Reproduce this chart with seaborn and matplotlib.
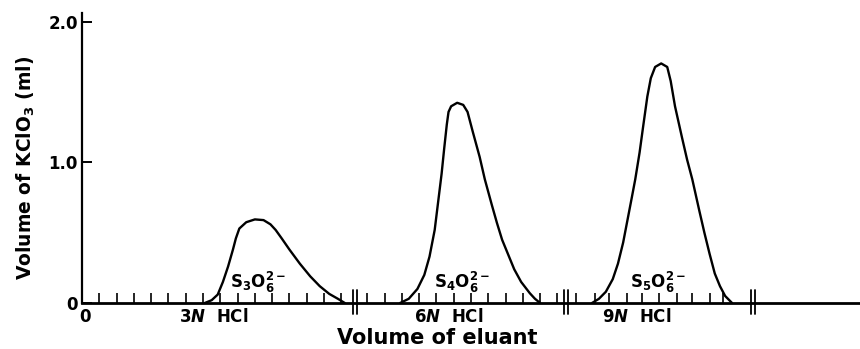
import numpy as np
import pandas as pd
import matplotlib
matplotlib.use("Agg")
import matplotlib.pyplot as plt
import seaborn as sns

# elution curves, x in tick units (volume of eluant), y in ml of KClO3
s3_x = [7.1, 7.5, 7.85, 8.15, 8.45, 8.73, 8.9, 9.1, 9.5, 10.0, 10.5, 10.9, 11.2, 11.55,
        12.0, 12.6, 13.2, 13.75, 14.3, 14.8, 15.2]
s3_y = [0.0, 0.02, 0.06, 0.15, 0.26, 0.38, 0.46, 0.53, 0.575, 0.595, 0.59, 0.56, 0.52, 0.46,
        0.38, 0.28, 0.19, 0.12, 0.065, 0.03, 0.0]

s4_x = [18.4, 18.9, 19.4, 19.8, 20.1, 20.4, 20.6, 20.8, 20.95, 21.1, 21.2, 21.35, 21.7, 22.05,
        22.3, 22.6, 23.0, 23.3, 23.7, 24.0, 24.3, 24.7, 25.0, 25.4, 25.9, 26.2, 26.5]
s4_y = [0.0, 0.03, 0.10, 0.20, 0.33, 0.52, 0.72, 0.92, 1.10, 1.27, 1.36, 1.40, 1.425, 1.41,
        1.36, 1.22, 1.04, 0.88, 0.70, 0.57, 0.45, 0.33, 0.24, 0.15, 0.07, 0.03, 0.0]

s5_x = [29.5, 29.9, 30.3, 30.7, 31.0, 31.3, 31.55, 31.8, 32.0, 32.25, 32.45, 32.7, 32.9, 33.15,
        33.5, 33.85, 34.05, 34.3, 34.7, 35.0, 35.3, 35.7, 36.0, 36.3, 36.6, 36.9, 37.2, 37.6]
s5_y = [0.0, 0.03, 0.08, 0.17, 0.28, 0.43, 0.59, 0.75, 0.88, 1.07, 1.25, 1.47, 1.60, 1.68,
        1.705, 1.68, 1.58, 1.40, 1.18, 1.02, 0.88, 0.66, 0.50, 0.35, 0.21, 0.12, 0.05, 0.0]

species = [r"S$_3$O$_6^{2-}$", r"S$_4$O$_6^{2-}$", r"S$_5$O$_6^{2-}$"]
species_x = [10.2, 22.0, 33.3]

eluants = [r"3$\it{N}$  HCl", r"6$\it{N}$  HCl", r"9$\it{N}$  HCl"]
eluant_x = [7.6, 21.2, 32.1]

minor_ticks = list(range(1, 16)) + [16.5 + i for i in range(12)] + [28.6, 29.7, 30.5, 31.5, 32.4, 33.4, 34.4, 35.3, 36.3, 37.1]
breaks = [15.8, 28.0, 38.8]

sns.set_style("ticks", {'text.color': 'black', 'axes.edgecolor': 'black',
                        'xtick.color': 'black', 'ytick.color': 'black'})
plt.rcParams['font.family'] = ['DejaVu Sans']
plt.rcParams['font.weight'] = 'bold'
plt.rcParams['mathtext.default'] = 'regular'

fig = plt.figure(figsize=(8.6, 3.49), dpi=100)
ax = fig.add_axes([82/860, 46/349, 778/860, 290/349])

df = pd.concat([
    pd.DataFrame({'x': s3_x, 'y': s3_y, 'ion': 'S3'}),
    pd.DataFrame({'x': s4_x, 'y': s4_y, 'ion': 'S4'}),
    pd.DataFrame({'x': s5_x, 'y': s5_y, 'ion': 'S5'}),
])
sns.lineplot(data=df, x='x', y='y', units='ion', estimator=None, color='black',
             lw=1.7, ax=ax, legend=False)

ax.set_xlim(0, 45)
ax.set_ylim(0, 2.064)
for s in ['top', 'right']:
    ax.spines[s].set_visible(False)
ax.spines['left'].set_linewidth(1.6)
ax.spines['bottom'].set_linewidth(2.0)

ax.set_yticks([0, 1, 2])
ax.set_yticklabels(['0', '1.0', '2.0'], fontsize=12)
ax.tick_params(axis='y', direction='in', length=7, width=1.4, pad=3)
ax.set_xticks(minor_ticks)
ax.set_xticklabels([])
ax.tick_params(axis='x', direction='in', length=7, width=1.2)
ax.set_xlabel('')
ax.set_ylabel('')

# axis break marks
for b in breaks:
    for dx in (-0.12, 0.12):
        ax.plot([b + dx, b + dx], [-0.08, 0.09], color='black', lw=1.3, clip_on=False)

for lab, xx in zip(species, species_x):
    ax.text(xx, 0.145, lab, ha='center', va='center', fontsize=12)

ax.text(0.2, -0.10, '0', ha='center', va='center', fontsize=12)
for lab, xx in zip(eluants, eluant_x):
    ax.text(xx, -0.10, lab, ha='center', va='center', fontsize=12)

fig.text(437/860, 1 - 338/349, 'Volume of eluant', ha='center', va='center', fontsize=15)
fig.text(26/860, 1 - 168/349, r'Volume of KClO$_3$ (ml)', ha='center', va='center',
         rotation=90, fontsize=13.5)

fig.savefig('out.png', dpi=100)
